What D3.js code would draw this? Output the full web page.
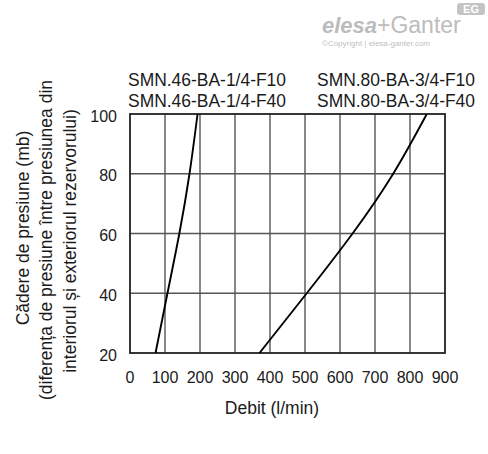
<!DOCTYPE html>
<html>
<head>
  <meta charset="utf-8">
  <script src="https://d3js.org/d3.v7.min.js"></script>
  <style>
  html, body {
    margin: 0px;
    background: #fff;
  }
  text {
    font-family: "Liberation Sans", Arial, sans-serif;
    fill: #1a1a1a;
  }
  </style>
</head>
<body>
  <svg id="chart" width="488" height="454"></svg>
  <script>

  // flow (l/min) vs pressure drop (mb)
  var smn46Flow = [73, 107, 141, 170, 193];
  var smn46Drop = [20, 40, 60, 80, 100];

  var smn80Flow = [370, 505, 636, 752, 848];
  var smn80Drop = [20, 40, 60, 80, 100];

  var xTicks = [0, 100, 200, 300, 400, 500, 600, 700, 800, 900];
  var yTicks = [20, 40, 60, 80, 100];

  var legendLeft = ["SMN.46-BA-1/4-F10", "SMN.46-BA-1/4-F40"];
  var legendRight = ["SMN.80-BA-3/4-F10", "SMN.80-BA-3/4-F40"];

  var yTitle = [
    "Cădere de presiune (mb)",
    "(diferența de presiune între presiunea din",
    "interiorul și exteriorul rezervorului)"
  ];
  var xTitle = "Debit (l/min)";

  var svg = d3.select("#chart");

  var x = d3.scaleLinear().domain([0, 900]).range([130, 445]);
  var y = d3.scaleLinear().domain([20, 100]).range([353, 114]);

  // watermark logo
  var logo = svg.append("g");
  logo.append("text")
    .attr("x", 322).attr("y", 33)
    .style("font-size", "22px").style("font-weight", "bold").style("font-style", "italic")
    .style("fill", "#bcbcbc")
    .text("elesa");
  logo.append("text")
    .attr("x", 377).attr("y", 33)
    .style("font-size", "23px")
    .style("fill", "#bcbcbc")
    .text("+Ganter");
  logo.append("rect")
    .attr("x", 457).attr("y", 3).attr("width", 28).attr("height", 12).attr("rx", 3)
    .attr("fill", "#c4c4c4");
  logo.append("text")
    .attr("x", 471).attr("y", 13).attr("text-anchor", "middle")
    .style("font-size", "11px").style("font-weight", "bold")
    .style("fill", "#fff")
    .text("EG");
  logo.append("text")
    .attr("x", 322).attr("y", 45.5)
    .style("font-size", "8px")
    .style("fill", "#c0c0c0")
    .text("©Copyright | elesa-ganter.com");

  // grid
  svg.append("g").selectAll("line.v")
    .data(xTicks.slice(1, -1))
    .enter().append("line")
    .attr("x1", d => x(d)).attr("x2", d => x(d))
    .attr("y1", y(100)).attr("y2", y(20))
    .attr("stroke", "#555").attr("stroke-width", 1.4);

  svg.append("g").selectAll("line.h")
    .data(yTicks.slice(1, -1))
    .enter().append("line")
    .attr("x1", x(0)).attr("x2", x(900))
    .attr("y1", d => y(d)).attr("y2", d => y(d))
    .attr("stroke", "#555").attr("stroke-width", 1.4);

  svg.append("rect")
    .attr("x", x(0)).attr("y", y(100))
    .attr("width", x(900) - x(0)).attr("height", y(20) - y(100))
    .attr("fill", "none").attr("stroke", "#222").attr("stroke-width", 1.8);

  // curves
  var line = d3.line()
    .x(d => x(d[0]))
    .y(d => y(d[1]))
    .curve(d3.curveNatural);

  svg.append("path")
    .datum(d3.zip(smn46Flow, smn46Drop))
    .attr("d", line)
    .attr("fill", "none").attr("stroke", "#000").attr("stroke-width", 1.9);

  svg.append("path")
    .datum(d3.zip(smn80Flow, smn80Drop))
    .attr("d", line)
    .attr("fill", "none").attr("stroke", "#000").attr("stroke-width", 1.9);

  // tick labels
  svg.append("g").selectAll("text")
    .data(xTicks)
    .enter().append("text")
    .attr("x", d => x(d)).attr("y", 383)
    .attr("text-anchor", "middle")
    .style("font-size", "16px")
    .text(d => d);

  svg.append("g").selectAll("text")
    .data(yTicks)
    .enter().append("text")
    .attr("x", 117).attr("y", d => y(d) + 7.5)
    .attr("text-anchor", "end")
    .style("font-size", "16px")
    .text(d => d);

  // legend labels above the plot
  function legendCol(labels, left) {
    svg.append("g").selectAll("text")
      .data(labels)
      .enter().append("text")
      .attr("x", left).attr("y", (d, i) => 86 + i * 20.5)
      .attr("textLength", 158).attr("lengthAdjust", "spacingAndGlyphs")
      .style("font-size", "19px")
      .text(d => d);
  }
  legendCol(legendLeft, 128);
  legendCol(legendRight, 317);

  // axis titles
  svg.append("text")
    .attr("x", 272).attr("y", 414)
    .attr("text-anchor", "middle")
    .style("font-size", "17.5px")
    .text(xTitle);

  var yBase = [28.5, 52, 75.5];
  var yMid = [228, 240, 241];
  svg.append("g").selectAll("text")
    .data(yTitle)
    .enter().append("text")
    .attr("transform", (d, i) => "translate(" + yBase[i] + "," + yMid[i] + ") rotate(-90)")
    .attr("text-anchor", "middle")
    .style("font-size", "17.5px")
    .text(d => d);

  </script>
</body>
</html>
